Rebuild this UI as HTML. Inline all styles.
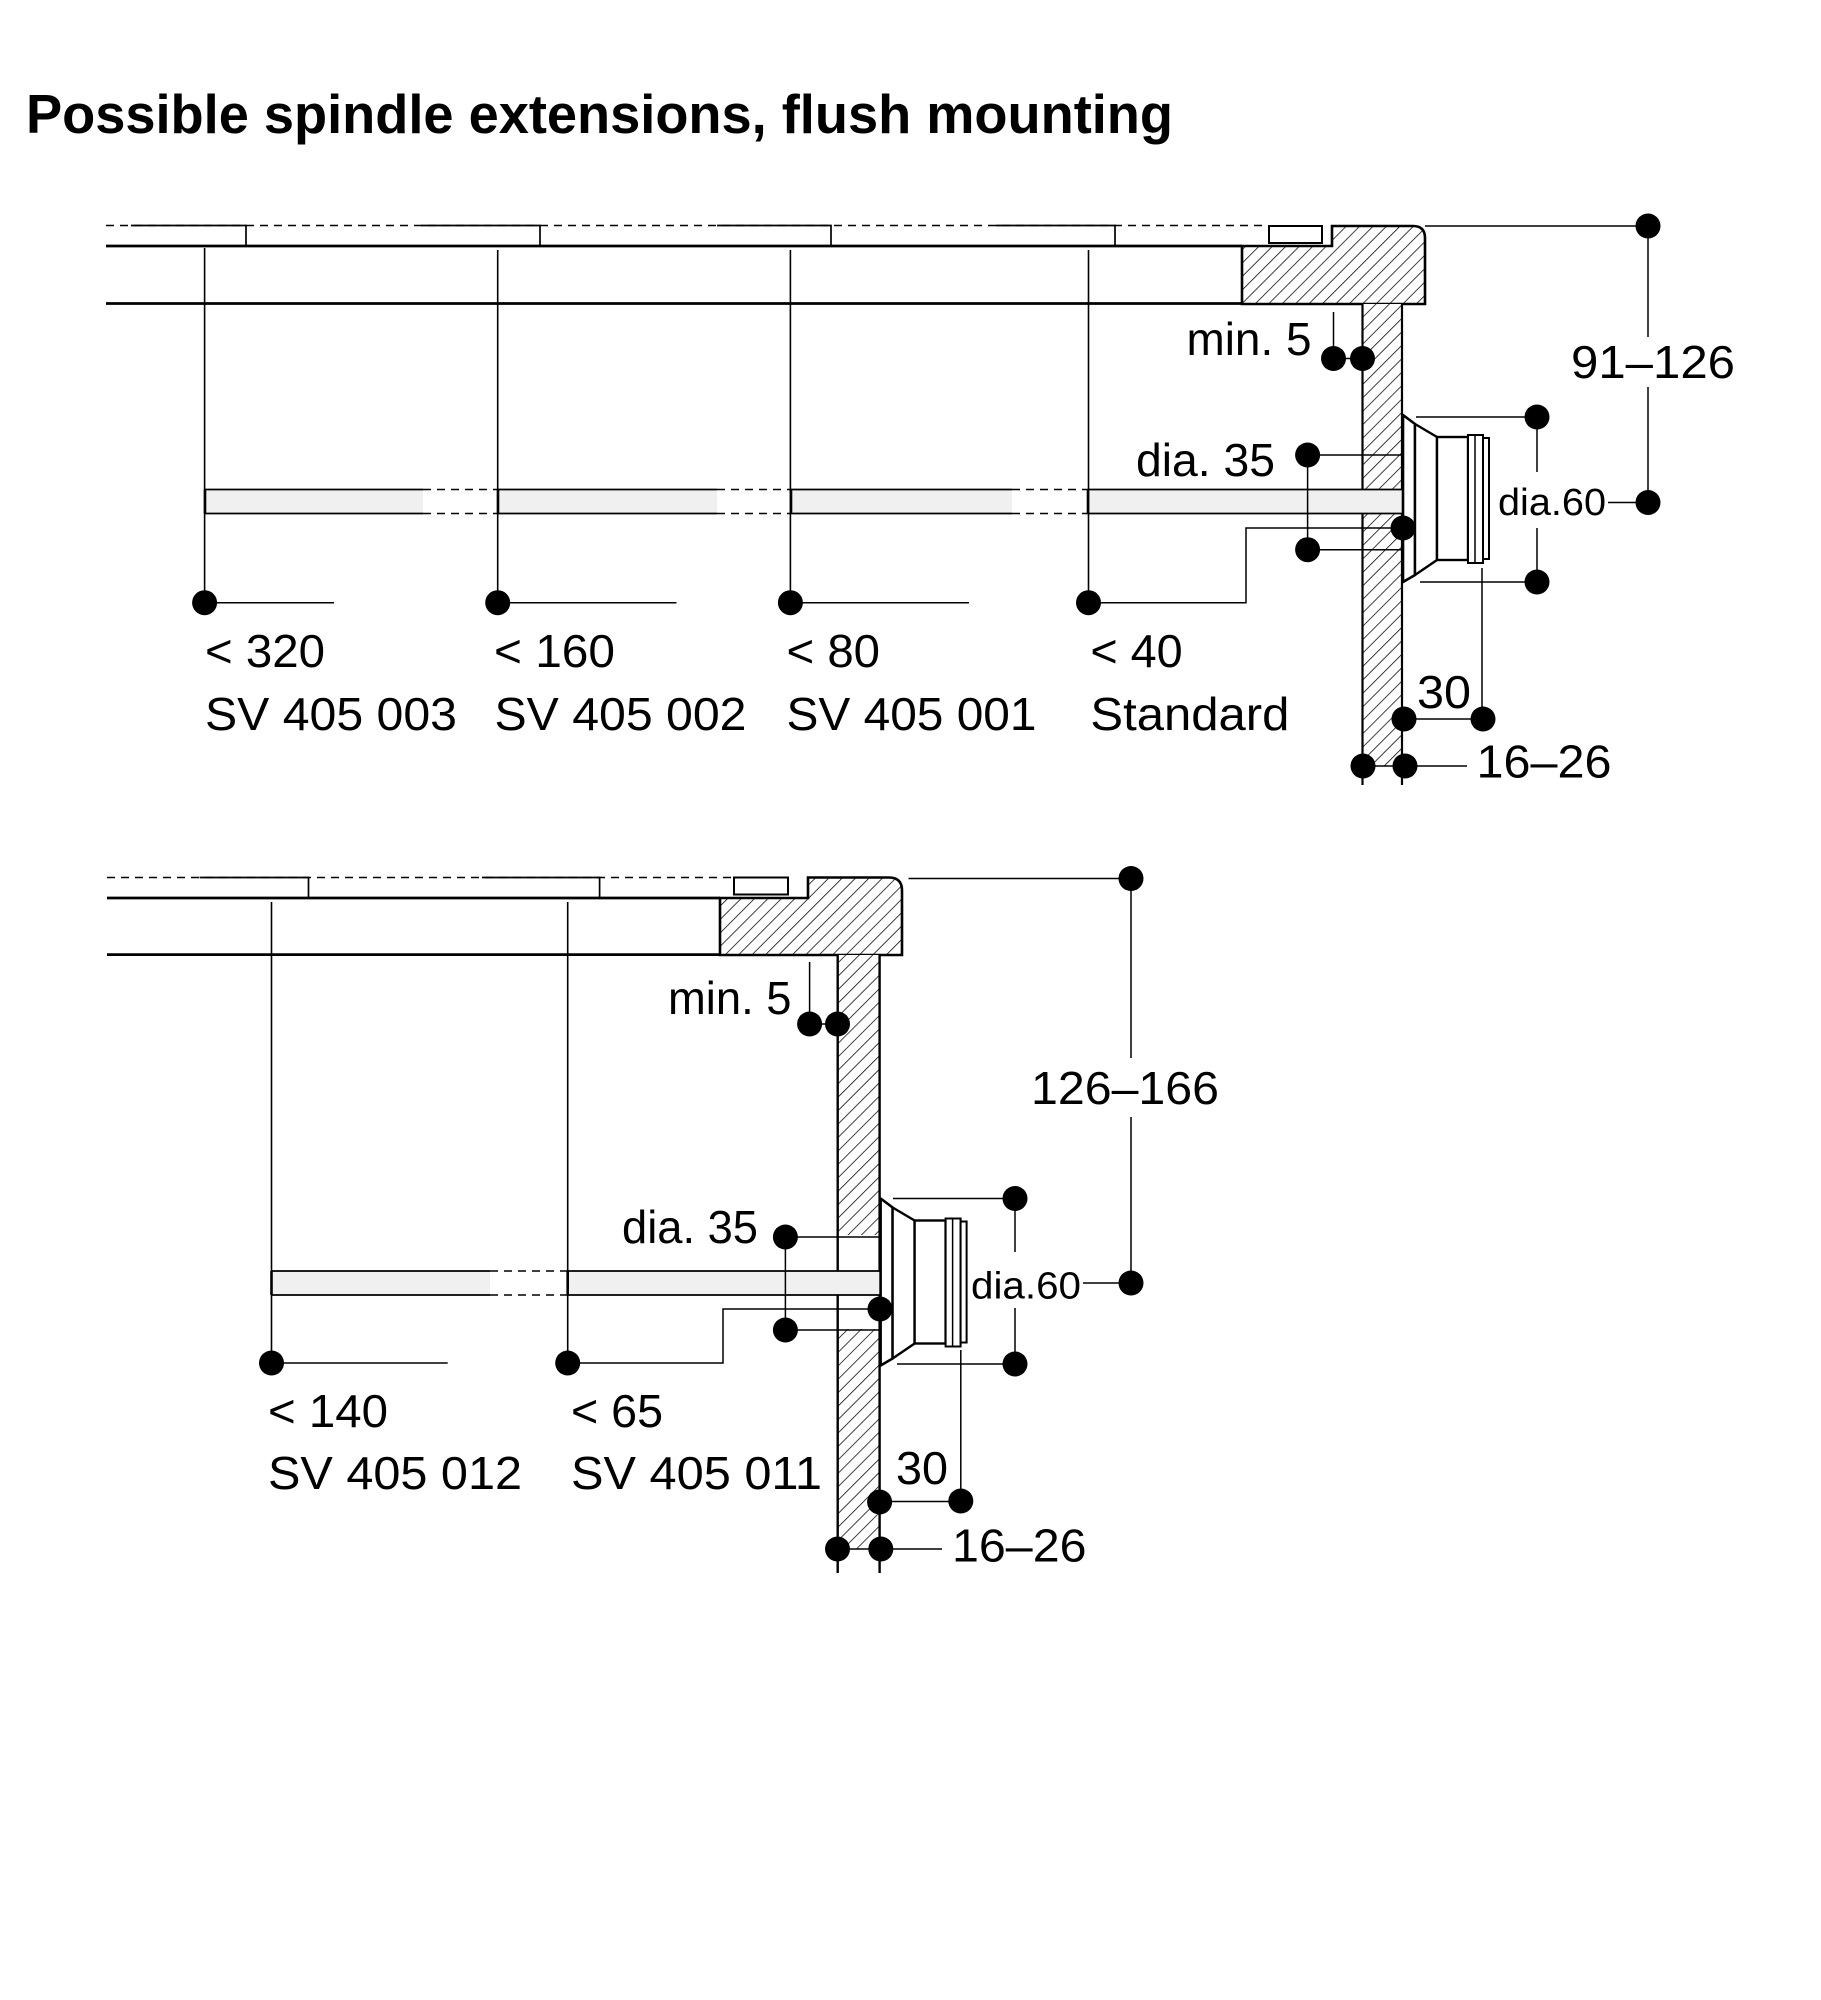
<!DOCTYPE html>
<html><head><meta charset="utf-8"><style>
html,body{margin:0;padding:0;background:#fff;}
svg{display:block;}
text{font-family:"Liberation Sans",Arial,sans-serif;fill:#000;}
</style></head><body>
<svg width="1821" height="2000" viewBox="0 0 1821 2000" xmlns="http://www.w3.org/2000/svg">
<defs>
<pattern id="h" patternUnits="userSpaceOnUse" width="9.5" height="9.5" patternTransform="rotate(45)">
<rect width="9.5" height="9.5" fill="#fff"/>
<line x1="0" y1="-1" x2="0" y2="11" stroke="#000" stroke-width="1.5"/>
</pattern>
<g id="knob">
<path d="M1403 415 L1415 424 V575 L1403 582 Z" fill="#fff" stroke="#000" stroke-width="2.6" stroke-linejoin="round"/>
<path d="M1415 424 L1437 437 V560 L1415 575 Z" fill="#fff" stroke="#000" stroke-width="2.4" stroke-linejoin="round"/>
<rect x="1437" y="437" width="31" height="123" fill="#fff" stroke="#000" stroke-width="2.4"/>
<rect x="1468" y="435" width="15" height="128" fill="#fff" stroke="#000" stroke-width="2"/>
<line x1="1475" y1="435" x2="1475" y2="563" stroke="#000" stroke-width="1.5"/>
<rect x="1483" y="438" width="6" height="121" fill="#fff" stroke="#000" stroke-width="2"/>
</g>
</defs>
<rect width="1821" height="2000" fill="#fff"/>

<text x="26" y="133" font-size="55" font-weight="bold" textLength="1147" lengthAdjust="spacingAndGlyphs">Possible spindle extensions, flush mounting</text>

<!-- ================= TOP DIAGRAM ================= -->
<line x1="106" y1="225.5" x2="1262" y2="225.5" stroke="#000" stroke-width="1.5" stroke-dasharray="8 6"/>
<path d="M131 225.5H246V246 M421 225.5H540V246 M717 225.5H831V246 M996 225.5H1115V246" fill="none" stroke="#000" stroke-width="1.7"/>
<path d="M106 246H1242 M106 303.5H1242" stroke="#000" stroke-width="2.7" fill="none"/>
<path d="M1242 246H1332V226H1413Q1425 226 1425 238V304H1242Z" fill="url(#h)" stroke="#000" stroke-width="2.6"/>
<rect x="1269" y="226" width="53" height="17" fill="#fff" stroke="#000" stroke-width="2"/>

<!-- wall -->
<rect x="1362.5" y="304" width="39.5" height="462" fill="url(#h)"/>
<path d="M1362.5 304V785 M1402 304V785" stroke="#000" stroke-width="2.2" fill="none"/>

<!-- spindles -->
<rect x="205" y="489.5" width="218" height="24" fill="#f0f0f0"/>
<rect x="498" y="489.5" width="219" height="24" fill="#f0f0f0"/>
<rect x="791" y="489.5" width="221" height="24" fill="#f0f0f0"/>
<rect x="1088" y="489.5" width="314" height="24" fill="#f0f0f0"/>
<path d="M205 489.5H423 M205 513.5H423 M498 489.5H717 M498 513.5H717 M791 489.5H1012 M791 513.5H1012 M1088 489.5H1402 M1088 513.5H1402" stroke="#000" stroke-width="1.8" fill="none"/>
<path d="M423 489.5H498 M423 513.5H498 M717 489.5H791 M717 513.5H791 M1012 489.5H1088 M1012 513.5H1088" stroke="#000" stroke-width="1.5" stroke-dasharray="8 6" fill="none"/>
<path d="M205 489.5V513.5 M498 489.5V513.5 M791 489.5V513.5 M1088 489.5V513.5" stroke="#000" stroke-width="2.6"/>

<!-- leaders -->
<path d="M204.6 248V602.7 M497.7 250V602.7 M790.4 250V602.7 M1088.5 250V602.7" stroke="#000" stroke-width="1.6" fill="none"/>
<path d="M204.6 602.7H334 M497.7 602.7H676.5 M790.4 602.7H969 M1088.5 602.7H1246V528H1403" stroke="#000" stroke-width="1.5" fill="none"/>
<g fill="#000">
<circle cx="204.6" cy="602.7" r="12.5"/><circle cx="497.7" cy="602.7" r="12.5"/>
<circle cx="790.4" cy="602.7" r="12.5"/><circle cx="1088.5" cy="602.7" r="12.5"/>
</g>

<!-- knob -->
<use href="#knob"/>

<!-- dims top -->
<g stroke="#000" stroke-width="1.5" fill="none">
<path d="M1333.5 312V358.5H1362.5"/>
<path d="M1307.6 455H1402 M1307.6 549.7H1402 M1307.6 455V549.7"/>
<path d="M1416 417H1537 M1420 582H1537 M1537 417V472 M1537 528V582"/>
<path d="M1608 502.5H1648"/>
<path d="M1425 226H1648 M1648 226V337 M1648 387V502.5"/>
<path d="M1404 719H1483 M1482 568V719"/>
<path d="M1363 766H1467"/>
</g>
<g fill="#000">
<circle cx="1403" cy="528" r="12.5"/>
<circle cx="1333.5" cy="358.5" r="12.5"/><circle cx="1362.5" cy="358.5" r="12.5"/>
<circle cx="1307.6" cy="455" r="12.5"/><circle cx="1307.6" cy="549.7" r="12.5"/>
<circle cx="1537" cy="417" r="12.5"/><circle cx="1537" cy="582" r="12.5"/>
<circle cx="1648" cy="226" r="12.5"/><circle cx="1648" cy="502.5" r="12.5"/>
<circle cx="1404" cy="719" r="12.5"/><circle cx="1483" cy="719" r="12.5"/>
<circle cx="1363" cy="766" r="12.5"/><circle cx="1405" cy="766" r="12.5"/>
</g>

<g font-size="46">
<text x="205" y="667" textLength="120" lengthAdjust="spacingAndGlyphs">&lt; 320</text>
<text x="205" y="730" textLength="252" lengthAdjust="spacingAndGlyphs">SV 405 003</text>
<text x="494" y="667" textLength="121" lengthAdjust="spacingAndGlyphs">&lt; 160</text>
<text x="494.5" y="730" textLength="252" lengthAdjust="spacingAndGlyphs">SV 405 002</text>
<text x="786.5" y="667" textLength="93.5" lengthAdjust="spacingAndGlyphs">&lt; 80</text>
<text x="786.5" y="730" textLength="250" lengthAdjust="spacingAndGlyphs">SV 405 001</text>
<text x="1090.4" y="667" textLength="92.3" lengthAdjust="spacingAndGlyphs">&lt; 40</text>
<text x="1090.4" y="730" textLength="199" lengthAdjust="spacingAndGlyphs">Standard</text>
<text x="1186.5" y="355" textLength="125" lengthAdjust="spacingAndGlyphs">min. 5</text>
<text x="1136" y="476" textLength="139" lengthAdjust="spacingAndGlyphs">dia. 35</text>
<text x="1571" y="378" textLength="164" lengthAdjust="spacingAndGlyphs">91–126</text>
<text x="1417" y="708" textLength="54" lengthAdjust="spacingAndGlyphs">30</text>
<text x="1476.5" y="777.7" textLength="135" lengthAdjust="spacingAndGlyphs">16–26</text>
</g>
<text x="1498" y="515" font-size="38" textLength="108" lengthAdjust="spacingAndGlyphs">dia.60</text>

<!-- ================= BOTTOM DIAGRAM ================= -->
<line x1="107" y1="877.5" x2="731" y2="877.5" stroke="#000" stroke-width="1.5" stroke-dasharray="8 6"/>
<path d="M199.6 877.5H308.5V898 M482 877.5H599.6V898" fill="none" stroke="#000" stroke-width="1.7"/>
<path d="M107 898H720 M107 954.6H720" stroke="#000" stroke-width="2.7" fill="none"/>
<path d="M720 898H808V877.5H889Q902 877.5 902 890.5V955H720Z" fill="url(#h)" stroke="#000" stroke-width="2.6"/>
<rect x="734" y="877.5" width="54" height="17" fill="#fff" stroke="#000" stroke-width="2"/>

<!-- wall -->
<rect x="837.7" y="955" width="41.9" height="280" fill="url(#h)"/>
<rect x="837.7" y="1329" width="41.9" height="220" fill="url(#h)"/>
<path d="M837.7 955V1573 M879.6 955V1573" stroke="#000" stroke-width="2.4" fill="none"/>

<!-- spindles -->
<rect x="271.5" y="1271" width="218.5" height="24" fill="#f0f0f0"/>
<rect x="567.7" y="1271" width="312" height="24" fill="#f0f0f0"/>
<path d="M271.5 1271H490 M271.5 1295H490 M567.7 1271H879.6 M567.7 1295H879.6" stroke="#000" stroke-width="1.8" fill="none"/>
<path d="M490 1271H567.7 M490 1295H567.7" stroke="#000" stroke-width="1.5" stroke-dasharray="8 6" fill="none"/>
<path d="M271.5 1271V1295 M567.7 1271V1295" stroke="#000" stroke-width="2.6"/>

<!-- leaders -->
<path d="M271.5 902V1363 M567.7 902V1363" stroke="#000" stroke-width="1.6" fill="none"/>
<path d="M271.5 1363H447.7 M567.7 1363H723V1309H880" stroke="#000" stroke-width="1.5" fill="none"/>
<g fill="#000">
<circle cx="271.5" cy="1363" r="12.5"/><circle cx="567.7" cy="1363" r="12.5"/>
</g>

<!-- knob -->
<use href="#knob" transform="translate(-522.4 783.5)"/>

<!-- dims bottom -->
<g stroke="#000" stroke-width="1.5" fill="none">
<path d="M809.6 962V1024H837.5"/>
<path d="M785.4 1237H880 M785.4 1330H880 M785.4 1237V1330"/>
<path d="M893 1198.5H1015 M897 1364H1015 M1015 1198.5V1252 M1015 1308V1364"/>
<path d="M1083 1283H1131"/>
<path d="M908.5 878.5H1131 M1131 878.5V1058 M1131 1117V1283"/>
<path d="M880 1501.5H961 M960.8 1350V1501"/>
<path d="M837.5 1549H942"/>
</g>
<g fill="#000">
<circle cx="880" cy="1309" r="12.5"/>
<circle cx="809.6" cy="1024" r="12.5"/><circle cx="837.5" cy="1024" r="12.5"/>
<circle cx="785.4" cy="1237" r="12.5"/><circle cx="785.4" cy="1330" r="12.5"/>
<circle cx="1015" cy="1198.5" r="12.5"/><circle cx="1015" cy="1364" r="12.5"/>
<circle cx="1131" cy="878.5" r="12.5"/><circle cx="1131" cy="1283" r="12.5"/>
<circle cx="879.6" cy="1502" r="12.5"/><circle cx="960.8" cy="1501" r="12.5"/>
<circle cx="837.5" cy="1549" r="12.5"/><circle cx="880.8" cy="1549" r="12.5"/>
</g>

<g font-size="46">
<text x="268" y="1427" textLength="120" lengthAdjust="spacingAndGlyphs">&lt; 140</text>
<text x="268" y="1489" textLength="254" lengthAdjust="spacingAndGlyphs">SV 405 012</text>
<text x="571" y="1427" textLength="92" lengthAdjust="spacingAndGlyphs">&lt; 65</text>
<text x="571" y="1489" textLength="251" lengthAdjust="spacingAndGlyphs">SV 405 011</text>
<text x="668" y="1014" textLength="123.5" lengthAdjust="spacingAndGlyphs">min. 5</text>
<text x="622" y="1243" textLength="136" lengthAdjust="spacingAndGlyphs">dia. 35</text>
<text x="1031" y="1104" textLength="188" lengthAdjust="spacingAndGlyphs">126–166</text>
<text x="896" y="1484" textLength="52" lengthAdjust="spacingAndGlyphs">30</text>
<text x="952" y="1561.5" textLength="134.5" lengthAdjust="spacingAndGlyphs">16–26</text>
</g>
<text x="971" y="1298.5" font-size="38" textLength="110" lengthAdjust="spacingAndGlyphs">dia.60</text>
</svg>
</body></html>
